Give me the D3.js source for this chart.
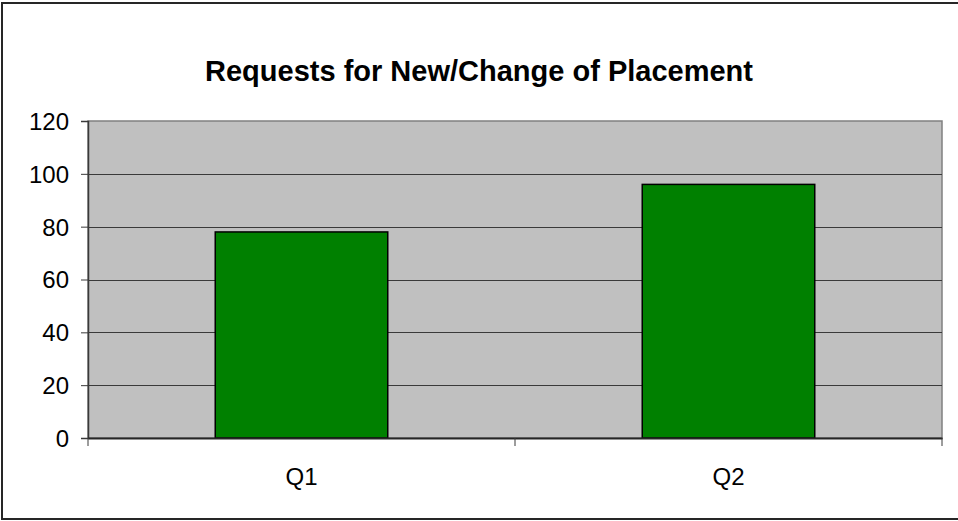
<!DOCTYPE html>
<html>
<head>
<meta charset="utf-8">
<script src="https://cdn.jsdelivr.net/npm/d3@7"></script>
<style>
  html, body { margin: 0; padding: 0; background: #ffffff; }
  svg { display: block; }
  text { font-family: "Liberation Sans", Arial, sans-serif; }
</style>
</head>
<body>
<svg id="chart" width="958" height="521"></svg>
<script>
const title = "Requests for New/Change of Placement";
const categories = ["Q1", "Q2"];
const values = [78, 96];
const yTicks = [0, 20, 40, 60, 80, 100, 120];

const W = 958, H = 521;
const plot = { left: 88, top: 121, right: 942, bottom: 438 };

const svg = d3.select("#chart");

// outer frame
svg.append("rect")
  .attr("x", 2).attr("y", 3)
  .attr("width", 962).attr("height", 516)
  .attr("fill", "#ffffff")
  .attr("stroke", "#262626")
  .attr("stroke-width", 2);

const x = d3.scaleBand().domain(categories).range([plot.left, plot.right]).padding(0);
const y = d3.scaleLinear().domain([0, 120]).range([plot.bottom, plot.top]);

// plot area background
svg.append("rect")
  .attr("x", plot.left).attr("y", plot.top)
  .attr("width", plot.right - plot.left).attr("height", plot.bottom - plot.top)
  .attr("fill", "#c0c0c0")
  .attr("stroke", "#808080")
  .attr("stroke-width", 1.5);

// gridlines
svg.append("g").selectAll("line")
  .data(yTicks.filter(d => d > 0 && d < 120))
  .join("line")
  .attr("x1", plot.left).attr("x2", plot.right)
  .attr("y1", d => Math.round(y(d)) + 0.5).attr("y2", d => Math.round(y(d)) + 0.5)
  .attr("stroke", "#3a3a3a").attr("stroke-width", 1);

// bars
const barFrac = 0.404;
svg.append("g").selectAll("rect")
  .data(categories)
  .join("rect")
  .attr("x", d => x(d) + x.bandwidth() * (1 - barFrac) / 2)
  .attr("width", x.bandwidth() * barFrac)
  .attr("y", (d, i) => y(values[i]))
  .attr("height", (d, i) => y(0) - y(values[i]))
  .attr("fill", "#008000")
  .attr("stroke", "#000000")
  .attr("stroke-width", 1.5);

// y axis
const yAxis = d3.axisLeft(y).tickValues(yTicks).tickSize(7).tickPadding(12).tickFormat(d3.format("d"));
const gy = svg.append("g").attr("transform", `translate(${plot.left},0)`).call(yAxis);
gy.select(".domain").attr("stroke", "#3a3a3a").attr("stroke-width", 1.5);
gy.selectAll(".tick line").attr("stroke", "#3a3a3a");
gy.selectAll(".tick text")
  .attr("font-size", 24)
  .attr("fill", "#000")
  .attr("font-family", "Liberation Sans, Arial, sans-serif")
  .attr("dy", "0.35em");

// x axis: ticks at band boundaries
const xAxis = d3.axisBottom(x).tickSize(0).tickPadding(30);
const gx = svg.append("g").attr("transform", `translate(0,${plot.bottom})`).call(xAxis);
gx.select(".domain").attr("stroke", "#262626").attr("stroke-width", 2);
gx.selectAll(".tick text")
  .attr("font-size", 24)
  .attr("fill", "#000")
  .attr("font-family", "Liberation Sans, Arial, sans-serif");
const boundaries = categories.map(d => x(d)).concat([x(categories[categories.length - 1]) + x.bandwidth()]);
gx.append("g").selectAll("line")
  .data(boundaries)
  .join("line")
  .attr("x1", d => d).attr("x2", d => d)
  .attr("y1", 0).attr("y2", 8)
  .attr("stroke", "#3a3a3a").attr("stroke-width", 1);

// title
svg.append("text")
  .attr("x", W / 2)
  .attr("y", 81)
  .attr("text-anchor", "middle")
  .attr("font-size", 29)
  .attr("font-weight", "bold")
  .attr("fill", "#000")
  .text(title);
</script>
</body>
</html>
